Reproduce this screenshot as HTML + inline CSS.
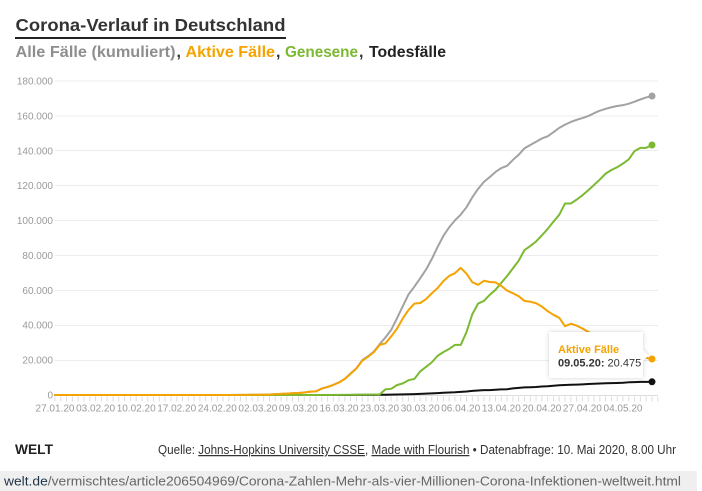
<!DOCTYPE html>
<html>
<head>
<meta charset="utf-8">
<style>
html,body{margin:0;padding:0;background:#fff;}
svg{display:block;}
text{font-family:"Liberation Sans",sans-serif;}
</style>
</head>
<body>
<svg width="702" height="491" viewBox="0 0 702 491" xmlns="http://www.w3.org/2000/svg">
<defs>
<filter id="sh" x="-20%" y="-30%" width="140%" height="160%">
<feDropShadow dx="0" dy="0" stdDeviation="2" flood-color="#000" flood-opacity="0.18"/>
</filter>
</defs>
<rect width="702" height="491" fill="#fff"/>

<!-- Title -->
<text x="15.5" y="31" font-size="17.5" font-weight="bold" fill="#333" textLength="270" lengthAdjust="spacingAndGlyphs">Corona-Verlauf in Deutschland</text>
<rect x="15" y="37" width="271" height="2" fill="#222"/>

<!-- Subtitle -->
<g font-size="16" font-weight="bold">
<text x="15.5" y="57" fill="#8e8e8e" textLength="160" lengthAdjust="spacingAndGlyphs">Alle Fälle (kumuliert)</text>
<text x="176.5" y="57" fill="#333">,</text>
<text x="185.5" y="57" fill="#f5a300" textLength="89.5" lengthAdjust="spacingAndGlyphs">Aktive Fälle</text>
<text x="276" y="57" fill="#333">,</text>
<text x="285" y="57" fill="#7cb932" textLength="73" lengthAdjust="spacingAndGlyphs">Genesene</text>
<text x="359" y="57" fill="#333">,</text>
<text x="369" y="57" fill="#222" textLength="77" lengthAdjust="spacingAndGlyphs">Todesfälle</text>
</g>

<!-- Gridlines -->
<g stroke="#ececec" stroke-width="1">
<line x1="55" y1="360.5" x2="658" y2="360.5"/>
<line x1="55" y1="325.5" x2="658" y2="325.5"/>
<line x1="55" y1="290.5" x2="658" y2="290.5"/>
<line x1="55" y1="255.5" x2="658" y2="255.5"/>
<line x1="55" y1="220.5" x2="658" y2="220.5"/>
<line x1="55" y1="185.5" x2="658" y2="185.5"/>
<line x1="55" y1="150.5" x2="658" y2="150.5"/>
<line x1="55" y1="116" x2="658" y2="116"/>
<line x1="55" y1="81" x2="658" y2="81"/>
<line x1="55" y1="395.5" x2="658" y2="395.5" stroke="#ddd"/>
</g>
<!-- daily ticks -->
<line x1="54.5" y1="399" x2="659" y2="399" stroke="#dcdcdc" stroke-width="5" stroke-dasharray="1 4.796"/>

<!-- Y labels -->
<g font-size="10" fill="#9a9a9a" text-anchor="end">
<text x="53" y="398.5">0</text>
<text x="53" y="363.6">20.000</text>
<text x="53" y="328.7">40.000</text>
<text x="53" y="293.8">60.000</text>
<text x="53" y="258.9">80.000</text>
<text x="53" y="224">100.000</text>
<text x="53" y="189.2">120.000</text>
<text x="53" y="154.3">140.000</text>
<text x="53" y="119.4">160.000</text>
<text x="53" y="84.5">180.000</text>
</g>

<!-- X labels -->
<g font-size="10" fill="#9a9a9a" text-anchor="middle">
<text x="55" y="411.5">27.01.20</text>
<text x="95.6" y="411.5">03.02.20</text>
<text x="136.2" y="411.5">10.02.20</text>
<text x="176.7" y="411.5">17.02.20</text>
<text x="217.3" y="411.5">24.02.20</text>
<text x="257.9" y="411.5">02.03.20</text>
<text x="298.4" y="411.5">09.03.20</text>
<text x="339" y="411.5">16.03.20</text>
<text x="379.6" y="411.5">23.03.20</text>
<text x="420.2" y="411.5">30.03.20</text>
<text x="460.7" y="411.5">06.04.20</text>
<text x="501.3" y="411.5">13.04.20</text>
<text x="541.9" y="411.5">20.04.20</text>
<text x="582.4" y="411.5">27.04.20</text>
<text x="623" y="411.5">04.05.20</text>
</g>

<!-- Series -->
<g transform="translate(55,395) scale(5.796,-0.0017444)" fill="none" stroke-width="2" stroke-linejoin="round" stroke-linecap="round">
<!-- Deaths -->
<polyline vector-effect="non-scaling-stroke" stroke="#111" points="0,0 41,0 42,2 45,3 46,7 48,11 49,17 50,24 51,28 52,44 53,67 54,84 55,94 56,123 57,157 58,206 59,267 60,342 61,433 62,533 63,645 64,775 65,920 66,1107 67,1275 68,1444 69,1584 70,1810 71,2016 72,2349 73,2607 74,2767 75,2800 76,3022 77,3194 78,3294 79,3804 80,4052 81,4352 82,4459 83,4586 84,4862 85,5033 86,5279 87,5575 88,5760 89,5877 90,5976 91,6126 92,6314 93,6467 94,6623 95,6736 96,6812 97,6866 98,6993 99,7275 100,7392 101,7510 102,7510 103,7549"/>
<!-- Confirmed -->
<polyline vector-effect="non-scaling-stroke" stroke="#a2a2a2" points="0,1 5,8 10,13 20,16 28,16 29,17 30,27 31,46 32,48 33,79 34,130 35,159 36,196 37,262 38,482 39,670 40,799 41,1040 42,1176 43,1457 44,1908 45,2078 46,3675 47,4585 48,5795 49,7272 50,9257 51,12327 52,15320 53,19848 54,22213 55,24873 56,29056 57,32986 58,37323 59,43938 60,50871 61,57695 62,62095 63,66885 64,71808 65,77872 66,84794 67,91159 68,96092 69,100123 70,103374 71,107663 72,113296 73,118181 74,122171 75,124908 76,127854 77,130072 78,131359 79,134753 80,137698 81,141397 82,143342 83,145184 84,147065 85,148291 86,150648 87,153129 88,154999 89,156513 90,157770 91,158758 92,159912 93,161539 94,163009 95,164077 96,164967 97,165664 98,166152 99,167007 100,168162 101,169430 102,170588 103,171324"/>
<!-- Recovered -->
<polyline vector-effect="non-scaling-stroke" stroke="#7cb932" points="0,0 20,0 33,16 40,18 44,25 49,67 52,113 53,180 54,233 55,266 56,266 57,3243 58,3547 59,5673 60,6658 61,8481 62,9211 63,13500 64,16100 65,18700 66,22440 67,24575 68,26400 69,28700 70,28700 71,36081 72,46300 73,52407 74,53913 75,57400 76,60300 77,64300 78,68200 79,72600 80,77000 81,83114 82,85400 83,88000 84,91500 85,95200 86,99400 87,103300 88,109800 89,109800 90,112000 91,114500 92,117400 93,120400 94,123500 95,126900 96,129000 97,130600 98,132700 99,135100 100,139900 101,141700 102,141700 103,143300"/>
<!-- Active -->
<polyline vector-effect="non-scaling-stroke" stroke="#f5a300" points="0,1 5,8 10,13 20,16 28,14 30,20 31,35 32,36 33,63 34,114 35,143 36,180 37,246 38,466 39,653 40,781 41,1022 42,1156 43,1437 44,1880 45,2050 46,3622 47,4530 48,5738 49,7188 50,9166 51,12194 52,15163 53,19601 54,21896 55,24513 56,28667 57,29586 58,33570 59,37998 60,43871 61,48781 62,52351 63,52740 64,54933 65,58252 66,61247 67,65309 68,68248 69,69839 70,72864 71,69566 72,64647 73,63167 74,65491 75,64772 76,64532 77,62578 78,59865 79,58349 80,56646 81,53931 82,53483 83,52598 84,50703 85,48058 86,45969 87,44254 88,39439 89,40836 90,39794 91,38132 92,36198 93,34672 94,32886 95,30441 96,29155 97,28198 98,26459 99,24632 100,20870 101,20220 102,21378 103,20475"/>
</g>

<!-- End dots -->
<circle cx="652" cy="96" r="3.5" fill="#a2a2a2"/>
<circle cx="652" cy="145" r="3.5" fill="#7cb932"/>
<circle cx="652" cy="381.8" r="3.5" fill="#111"/>
<circle cx="652" cy="359" r="3.5" fill="#f5a300"/>

<!-- Tooltip -->
<g filter="url(#sh)">
<rect x="549" y="332" width="94" height="46" fill="#fff"/>
<polygon points="643,350 648.5,355.5 643,361" fill="#fff"/>
</g>
<text x="558" y="353" font-size="11" font-weight="bold" fill="#f5a300">Aktive Fälle</text>
<text x="558" y="366.5" font-size="11" fill="#333"><tspan font-weight="bold">09.05.20:</tspan> 20.475</text>

<!-- Footer -->
<text x="15" y="454" font-size="14" font-weight="bold" fill="#222" textLength="38" lengthAdjust="spacingAndGlyphs">WELT</text>
<text x="158" y="454" font-size="12.5" fill="#333" textLength="518" lengthAdjust="spacingAndGlyphs">Quelle: <tspan text-decoration="underline">Johns-Hopkins University CSSE</tspan>, <tspan text-decoration="underline">Made with Flourish</tspan> • Datenabfrage: 10. Mai 2020, 8.00 Uhr</text>

<rect x="0" y="471" width="697" height="20" fill="#efefef"/>
<text x="4" y="485.5" font-size="13" fill="#666" textLength="677" lengthAdjust="spacingAndGlyphs"><tspan fill="#1f3347">welt.de</tspan>/vermischtes/article206504969/Corona-Zahlen-Mehr-als-vier-Millionen-Corona-Infektionen-weltweit.html</text>
</svg>
</body>
</html>
